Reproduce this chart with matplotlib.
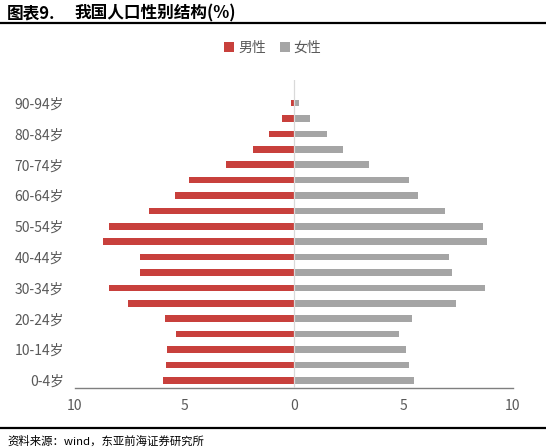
import matplotlib
matplotlib.use("Agg")
import matplotlib.pyplot as plt
from matplotlib.patches import Patch
from matplotlib.lines import Line2D

plt.rcParams['font.family'] = ['Noto Sans CJK SC', 'DejaVu Sans']

age_groups = ["0-4岁", "5-9岁", "10-14岁", "15-19岁", "20-24岁", "25-29岁", "30-34岁",
              "35-39岁", "40-44岁", "45-49岁", "50-54岁", "55-59岁", "60-64岁", "65-69岁",
              "70-74岁", "75-79岁", "80-84岁", "85-89岁", "90-94岁", "95岁以上"]
male = [5.98, 5.86, 5.82, 5.41, 5.89, 7.57, 8.46, 7.02, 7.02, 8.72,
        8.43, 6.64, 5.44, 4.80, 3.10, 1.89, 1.12, 0.53, 0.14, 0.02]
female = [5.50, 5.23, 5.10, 4.78, 5.38, 7.41, 8.74, 7.20, 7.07, 8.80,
          8.62, 6.90, 5.65, 5.26, 3.42, 2.24, 1.50, 0.75, 0.24, 0.03]
x_ticks = [-10, -5, 0, 5, 10]
x_tick_labels = ["10", "5", "0", "5", "10"]
title_prefix = "图表9."
title_text = "我国人口性别结构(%)"
source_text = "资料来源：wind，东亚前海证券研究所"
legend_labels = ["男性", "女性"]

red = "#C8403C"
gray = "#A5A5A5"
txt = "#595959"

W, H = 546, 448
fig = plt.figure(figsize=(W / 100, H / 100), dpi=100)
ax = fig.add_axes([75 / W, 1 - 388 / H, (513 - 75) / W, (388 - 80) / H])

ypos = list(range(len(age_groups)))
ax.barh(ypos, [-m for m in male], height=0.42, color=red, zorder=2)
ax.barh(ypos, female, height=0.42, color=gray, zorder=2)

ax.set_xlim(-10, 10)
ax.set_ylim(-0.5, len(age_groups) - 0.5)
ax.set_xticks(x_ticks)
ax.set_xticklabels(x_tick_labels, fontsize=10, color=txt)
ax.set_yticks(ypos)
ax.set_yticklabels([lab if i % 2 == 0 else "" for i, lab in enumerate(age_groups)],
                   fontsize=10, color=txt)
ax.tick_params(axis='both', length=0)
ax.tick_params(axis='x', pad=8)
ax.tick_params(axis='y', pad=8)

for s in ['top', 'right', 'left']:
    ax.spines[s].set_visible(False)
ax.spines['bottom'].set_color("#7F7F7F")
ax.spines['bottom'].set_linewidth(1.0)
ax.axvline(0, color="#D9D9D9", linewidth=0.9, zorder=3)

# title and separators
fig.text(7 / W, 1 - 13 / H, title_prefix, fontsize=12, fontweight='bold', color='black',
         va='center', ha='left')
fig.text(74 / W, 1 - 13 / H, title_text, fontsize=12, fontweight='bold', color='black',
         va='center', ha='left')
fig.add_artist(Line2D([0, 1], [1 - 23.5 / H, 1 - 23.5 / H], color='black', linewidth=1.6))
fig.add_artist(Line2D([0, 1], [1 - 428 / H, 1 - 428 / H], color='black', linewidth=1.6))
fig.text(7 / W, 1 - 441 / H, source_text, fontsize=8.2, color='black', va='center', ha='left')

handles = [Patch(facecolor=red), Patch(facecolor=gray)]
fig.legend(handles, legend_labels, loc='center', bbox_to_anchor=(273 / W, 1 - 48 / H),
           ncol=2, frameon=False, fontsize=10, labelcolor=txt, handlelength=0.7,
           handleheight=0.7, handletextpad=0.3, columnspacing=1.0)

fig.savefig("out.png", dpi=100, facecolor='white')
